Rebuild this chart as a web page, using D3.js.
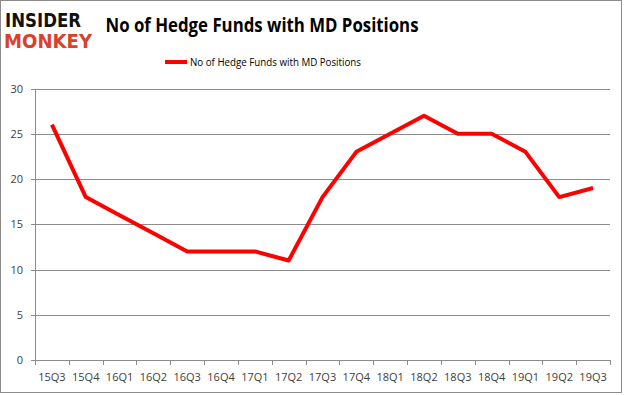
<!DOCTYPE html>
<html>
<head>
<meta charset="utf-8">
<script src="https://cdn.jsdelivr.net/npm/d3@7"></script>
<style>
  body { margin: 0; background: #fff; }
  svg { display: block; font-family: 'Open Sans', 'DejaVu Sans', sans-serif; }
</style>
</head>
<body>
<div id="container"></div>
<script>
const categories = ['15Q3', '15Q4', '16Q1', '16Q2', '16Q3', '16Q4', '17Q1', '17Q2', '17Q3',
  '17Q4', '18Q1', '18Q2', '18Q3', '18Q4', '19Q1', '19Q2', '19Q3']
const funds = [26, 18, 16, 14, 12, 12, 12, 11, 18, 23, 25, 27, 25, 25, 23, 18, 19]
const yTicks = [0, 5, 10, 15, 20, 25, 30]
const seriesName = 'No of Hedge Funds with MD Positions'
const title = 'No of Hedge Funds with MD Positions'

function drawChart () {
  const width = 625
  const height = 395
  const margin = { top: 88.5, right: 15, bottom: 35, left: 35 }

  const svg = d3.select('#container')
    .append('svg')
    .attr('width', width)
    .attr('height', height)

  svg.append('rect')
    .attr('x', 0.5).attr('y', 0.5)
    .attr('width', 621).attr('height', 392)
    .attr('fill', '#fff')
    .attr('stroke', '#8c8c8c')

  // logo
  svg.append('text')
    .attr('x', 5).attr('y', 27)
    .attr('font-family', 'DejaVu Sans')
    .attr('font-weight', 'bold')
    .attr('font-size', 19)
    .attr('textLength', 76)
    .attr('lengthAdjust', 'spacingAndGlyphs')
    .attr('fill', '#111')
    .text('INSIDER')
  svg.append('text')
    .attr('x', 4).attr('y', 48)
    .attr('font-family', 'DejaVu Sans')
    .attr('font-weight', 'bold')
    .attr('font-size', 19)
    .attr('textLength', 88)
    .attr('lengthAdjust', 'spacingAndGlyphs')
    .attr('fill', '#d9412b')
    .text('MONKEY')

  svg.append('text')
    .attr('x', 262).attr('y', 32)
    .attr('text-anchor', 'middle')
    .attr('font-family', 'Open Sans')
    .attr('font-weight', 'bold')
    .attr('font-size', 19)
    .attr('textLength', 313)
    .attr('lengthAdjust', 'spacingAndGlyphs')
    .text(title)

  // legend
  svg.append('line')
    .attr('x1', 165).attr('x2', 187)
    .attr('y1', 62).attr('y2', 62)
    .attr('stroke', '#ff0000')
    .attr('stroke-width', 4)
  svg.append('text')
    .attr('x', 190).attr('y', 66)
    .attr('font-size', 11)
    .attr('textLength', 171)
    .attr('lengthAdjust', 'spacingAndGlyphs')
    .text(seriesName)

  const xScale = d3.scaleBand()
    .domain(categories)
    .range([margin.left, width - margin.right])
  const yScale = d3.scaleLinear()
    .domain([0, 30])
    .range([height - margin.bottom, margin.top])

  const g = svg.append('g')

  g.append('g')
    .attr('class', 'grid')
    .attr('transform', `translate(${margin.left},0)`)
    .call(d3.axisLeft(yScale).tickValues(yTicks).tickSize(-(width - margin.right - margin.left)).tickFormat(''))
    .call(s => s.select('.domain').remove())
    .call(s => s.selectAll('line').attr('stroke', '#8c8c8c').attr('shape-rendering', 'crispEdges'))

  g.append('g')
    .attr('class', 'y-axis')
    .attr('transform', `translate(${margin.left},0)`)
    .call(d3.axisLeft(yScale).tickValues(yTicks).tickSize(4).tickPadding(8))
    .call(s => s.select('.domain').attr('stroke', '#8c8c8c').attr('shape-rendering', 'crispEdges'))
    .call(s => s.selectAll('line').attr('stroke', '#8c8c8c').attr('shape-rendering', 'crispEdges'))
    .call(s => s.selectAll('text').attr('font-size', 11).attr('fill', '#404040').attr('font-family', 'Open Sans'))

  const xAxis = g.append('g')
    .attr('class', 'x-axis')
    .attr('transform', `translate(0,${height - margin.bottom})`)
    .call(d3.axisBottom(xScale).tickSize(0).tickPadding(13))
    .call(s => s.select('.domain').attr('stroke', '#8c8c8c').attr('shape-rendering', 'crispEdges'))
    .call(s => s.selectAll('text').attr('font-size', 11).attr('fill', '#404040').attr('font-family', 'Open Sans'))

  const bounds = categories.map(c => xScale(c)).concat([width - margin.right])
  xAxis.selectAll('line.bound')
    .data(bounds)
    .join('line')
    .attr('class', 'bound')
    .attr('x1', d => Math.round(d) + 0.5).attr('x2', d => Math.round(d) + 0.5)
    .attr('y1', 0).attr('y2', 5)
    .attr('stroke', '#8c8c8c')

  const line = d3.line()
    .x((d, i) => xScale(categories[i]) + xScale.bandwidth() / 2)
    .y(d => yScale(d))

  g.append('path')
    .datum(funds)
    .attr('fill', 'none')
    .attr('stroke', '#ff0000')
    .attr('stroke-width', 4)
    .attr('stroke-linejoin', 'round')
    .attr('d', line)
}

drawChart()
</script>
</body>
</html>
